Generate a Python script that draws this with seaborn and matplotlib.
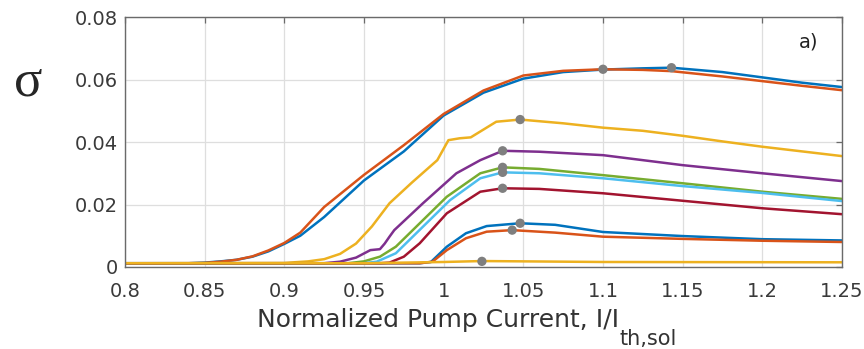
"""Normalized pump current vs sigma, panel a)"""
import matplotlib
matplotlib.use("Agg")
import matplotlib.pyplot as plt
import seaborn as sns

# curve data (x = I/I_th,sol, y = sigma)
x_blue1 = [0.80, 0.84, 0.85, 0.86, 0.87, 0.88, 0.89, 0.90, 0.91, 0.925, 0.95, 0.975, 1.00, 1.025, 1.05, 1.075, 1.10, 1.125, 1.143, 1.175, 1.20, 1.225, 1.25]
y_blue1 = [0.0012, 0.0012, 0.0014, 0.0018, 0.0023, 0.0033, 0.0050, 0.0074, 0.0100, 0.0160, 0.0277, 0.0370, 0.0485, 0.0558, 0.0603, 0.0624, 0.0632, 0.0636, 0.0638, 0.0624, 0.0607, 0.0590, 0.0576]
x_orange1 = x_blue1
y_orange1 = [0.0012, 0.0012, 0.0013, 0.0017, 0.0023, 0.0034, 0.0053, 0.0077, 0.0110, 0.0192, 0.0295, 0.0390, 0.0490, 0.0565, 0.0613, 0.0628, 0.0633, 0.0631, 0.0627, 0.0610, 0.0595, 0.0580, 0.0566]
x_yellow1 = [0.80, 0.90, 0.915, 0.925, 0.935, 0.945, 0.955, 0.966, 0.98, 0.996, 1.003, 1.01, 1.017, 1.025, 1.033, 1.048, 1.075, 1.10, 1.125, 1.15, 1.175, 1.20, 1.225, 1.25]
y_yellow1 = [0.0012, 0.0013, 0.0018, 0.0025, 0.0042, 0.0075, 0.0130, 0.0204, 0.0270, 0.0342, 0.0406, 0.0412, 0.0415, 0.0440, 0.0465, 0.0472, 0.0460, 0.0446, 0.0436, 0.0420, 0.0402, 0.0385, 0.0370, 0.0355]
x_purple = [0.80, 0.925, 0.935, 0.945, 0.954, 0.960, 0.963, 0.966, 0.969, 0.987, 1.008, 1.023, 1.037, 1.06, 1.10, 1.15, 1.20, 1.25]
y_purple = [0.0012, 0.0012, 0.0017, 0.0030, 0.0054, 0.0057, 0.0075, 0.0097, 0.0118, 0.0204, 0.0300, 0.0342, 0.0372, 0.0369, 0.0358, 0.0326, 0.0300, 0.0275]
x_green = [0.80, 0.94, 0.95, 0.96, 0.97, 0.985, 1.002, 1.023, 1.037, 1.06, 1.10, 1.15, 1.20, 1.25]
y_green = [0.0012, 0.0012, 0.0018, 0.0033, 0.0065, 0.0140, 0.0225, 0.0300, 0.0319, 0.0314, 0.0294, 0.0268, 0.0241, 0.0218]
x_cyan = [0.80, 0.95, 0.958, 0.97, 0.987, 1.004, 1.023, 1.037, 1.06, 1.10, 1.15, 1.20, 1.25]
y_cyan = [0.0012, 0.0012, 0.0017, 0.0044, 0.0129, 0.0214, 0.0284, 0.0303, 0.0300, 0.0284, 0.0259, 0.0237, 0.0211]
x_red = [0.80, 0.96, 0.966, 0.975, 0.985, 1.002, 1.023, 1.037, 1.06, 1.10, 1.15, 1.20, 1.25]
y_red = [0.0012, 0.0012, 0.0014, 0.0033, 0.0076, 0.0172, 0.0241, 0.0252, 0.0250, 0.0236, 0.0212, 0.0188, 0.0169]
x_blue2 = [0.80, 0.985, 0.992, 1.002, 1.014, 1.027, 1.048, 1.07, 1.10, 1.15, 1.20, 1.25]
y_blue2 = [0.0012, 0.0012, 0.0016, 0.0065, 0.0108, 0.0131, 0.0140, 0.0135, 0.0112, 0.0099, 0.0089, 0.0085]
x_orange2 = [0.80, 0.985, 0.993, 1.002, 1.014, 1.027, 1.043, 1.07, 1.10, 1.15, 1.20, 1.25]
y_orange2 = [0.0012, 0.0012, 0.0017, 0.0054, 0.0092, 0.0113, 0.0118, 0.0110, 0.0097, 0.0090, 0.0084, 0.0080]
x_yellow2 = [0.80, 0.95, 1.00, 1.024, 1.05, 1.10, 1.25]
y_yellow2 = [0.0012, 0.0012, 0.0016, 0.0019, 0.0018, 0.0016, 0.0015]

# peak markers
peak_x = [1.143, 1.100, 1.048, 1.037, 1.037, 1.037, 1.037, 1.048, 1.043, 1.024]
peak_y = [0.0638, 0.0633, 0.0472, 0.0372, 0.0319, 0.0303, 0.0252, 0.0140, 0.0118, 0.0018]

x_ticks = [0.8, 0.85, 0.9, 0.95, 1, 1.05, 1.1, 1.15, 1.2, 1.25]
x_ticklabels = ["0.8", "0.85", "0.9", "0.95", "1", "1.05", "1.1", "1.15", "1.2", "1.25"]
y_ticks = [0, 0.02, 0.04, 0.06, 0.08]
y_ticklabels = ["0", "0.02", "0.04", "0.06", "0.08"]

curves = [
    (x_blue1, y_blue1, "#0072BD"),
    (x_orange1, y_orange1, "#D95319"),
    (x_yellow1, y_yellow1, "#EDB120"),
    (x_purple, y_purple, "#7E2F8E"),
    (x_green, y_green, "#77AC30"),
    (x_cyan, y_cyan, "#4DBEEE"),
    (x_red, y_red, "#A2142F"),
    (x_blue2, y_blue2, "#0072BD"),
    (x_orange2, y_orange2, "#D95319"),
    (x_yellow2, y_yellow2, "#EDB120"),
]

sns.set_style("white")
plt.rcParams["font.family"] = ["DejaVu Sans"]

fig = plt.figure(figsize=(8.64, 3.49), dpi=100)
ax = fig.add_axes([0.1447, 0.235, 0.8298, 0.716])

for xs, ys, c in curves:
    sns.lineplot(x=xs, y=ys, color=c, linewidth=1.8, ax=ax, sort=False)
sns.scatterplot(x=peak_x, y=peak_y, color="#7f7f7f", s=45, edgecolor="none", zorder=5, ax=ax)

ax.set_xlim(0.8, 1.25)
ax.set_ylim(0, 0.08)
ax.set_xticks(x_ticks, x_ticklabels)
ax.set_yticks(y_ticks, y_ticklabels)
ax.grid(True, color="#dedede", linewidth=0.9)
ax.set_axisbelow(True)
for sp in ax.spines.values():
    sp.set_color("#6a6a6a")
    sp.set_linewidth(1.0)
ax.tick_params(direction="in", length=4, width=0.9, colors="#6a6a6a",
               labelcolor="#3a3a3a", labelsize=14, top=True, right=True)
ax.tick_params(axis="x", pad=11)
ax.tick_params(axis="y", pad=5)

# axis label, subscript drawn as its own text (sits low, near full size)
ax.set_xlabel("Normalized Pump Current, I/I", fontsize=18, color="#333333", va="baseline")
ax.xaxis.set_label_coords(0.4365, -0.24)
ax.text(0.69, -0.312, "th,sol", transform=ax.transAxes, ha="left", va="baseline",
        fontsize=15, color="#333333")

ax.set_ylabel("σ", rotation=0, fontsize=38, family=["Liberation Serif", "DejaVu Serif"],
              va="baseline", ha="center")
ax.yaxis.set_label_coords(-0.135, 0.685)
ax.text(0.953, 0.9, "a)", transform=ax.transAxes, ha="center", va="center", fontsize=14, color="#222222")

fig.savefig("out.png", dpi=100)
